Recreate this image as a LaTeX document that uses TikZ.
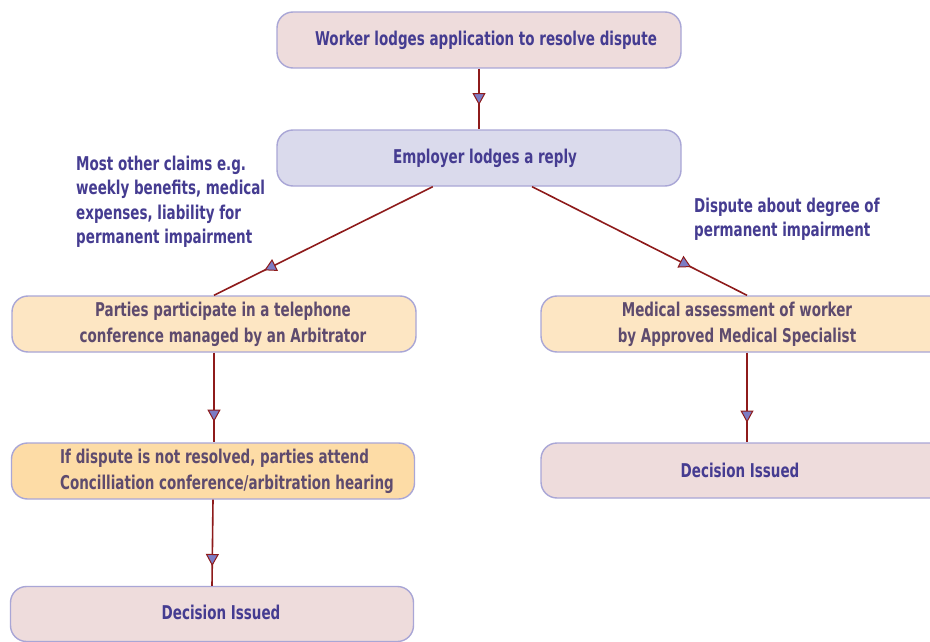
\documentclass[tikz,border=0pt]{standalone}
\usepackage{fontspec}
\newfontfamily\diafont[FakeStretch=0.71]{DejaVu Sans}
\usetikzlibrary{arrows.meta,decorations.markings,calc}
\definecolor{linered}{HTML}{8E1B1B}
\definecolor{arrowblue}{HTML}{7C7CC4}
\definecolor{boxborder}{HTML}{A9A6D6}
\definecolor{pinkfill}{HTML}{EEDCDC}
\definecolor{lavfill}{HTML}{DADAEC}
\definecolor{orangefill}{HTML}{FDE6C3}
\definecolor{deeporange}{HTML}{FDDCA6}
\definecolor{indigotext}{HTML}{453C91}
\definecolor{mauvetext}{HTML}{5E4B6E}
\tikzset{
  box/.style={draw=boxborder, line width=1.4pt, rounded corners=16pt,
    minimum height=56pt, inner sep=0pt},
  txt/.style={font=\diafont\bfseries\fontsize{19}{26}\selectfont, align=center, inner sep=0pt},
  lbl/.style={font=\diafont\bfseries\fontsize{19}{24.3}\selectfont, align=left, inner sep=0pt, text=indigotext},
  conn/.style={draw=linered, line width=1.6pt},
  midarrow/.style={postaction={decorate}, decoration={markings,
    mark=at position #1 with {\arrow[color=linered]{Triangle[width=13pt,length=12pt,line width=1pt,fill=arrowblue]}}}},
}
\begin{document}
\begin{tikzpicture}[x=1pt,y=-1pt]
\useasboundingbox (0,0) rectangle (930,642);
\fill[white] (0,0) rectangle (930,642);
\clip (0,0) rectangle (930,642);

% boxes
\node[box, fill=pinkfill, minimum width=404pt] (work) at (479,40) {};
\node[box, fill=lavfill, minimum width=404pt] (emp) at (479,158) {};
\node[box, fill=orangefill, minimum width=404pt] (par) at (214,324) {};
\node[box, fill=deeporange, minimum width=403pt] (ifb) at (213,471) {};
\node[box, fill=pinkfill, minimum width=403pt, minimum height=55pt] (decl) at (212,614) {};
\node[box, fill=orangefill, minimum width=412pt] (med) at (747,324) {};
\node[box, fill=pinkfill, minimum width=412pt, minimum height=55pt] (decr) at (747,470.5) {};

% texts
\node[txt, text=indigotext] (workt) at (486,40) {Worker lodges application to resolve dispute};
\node[txt, text=indigotext] (empt) at (485,158) {Employer lodges a reply};
\node[txt, text=mauvetext] (part) at (223,324) {Parties participate in a telephone\\conference managed by an Arbitrator};
\node[txt, text=mauvetext, align=left, anchor=west] (ift) at (60,471) {If dispute is not resolved, parties attend\\Concilliation conference/arbitration hearing};
\node[txt, text=indigotext] (declt) at (221,612) {Decision Issued};
\node[txt, text=mauvetext] (medt) at (737,324) {Medical assessment of worker\\by Approved Medical Specialist};
\node[txt, text=indigotext] (decrt) at (740,470) {Decision Issued};

% side labels
\node[lbl, anchor=north west] (lab1) at (76,156) {Most other claims e.g.\\weekly benefits, medical\\expenses, liability for\\permanent impairment};
\node[lbl, anchor=north west] (lab2) at (694,198) {Dispute about degree of\\permanent impairment};

% connectors
\coordinate (empL) at ($(emp.south west)!0.386!(emp.south east)$);
\coordinate (empR) at ($(emp.south west)!0.631!(emp.south east)$);
\coordinate (parS) at ($(par.south)+(0,0)$);
\coordinate (ifN) at ($(ifb.north)+(1,0)$);
\draw[conn, midarrow=0.6] (work.south) -- (emp.north);
\draw[conn, midarrow=0.77] (empL) -- (par.north);
\draw[conn, midarrow=0.74] (empR) -- (med.north);
\draw[conn, midarrow=0.77] (parS) -- (ifN);
\draw[conn, midarrow=0.77] (ifb.south) -- (decl.north);
\draw[conn, midarrow=0.78] (med.south) -- (decr.north);
\end{tikzpicture}
\end{document}
